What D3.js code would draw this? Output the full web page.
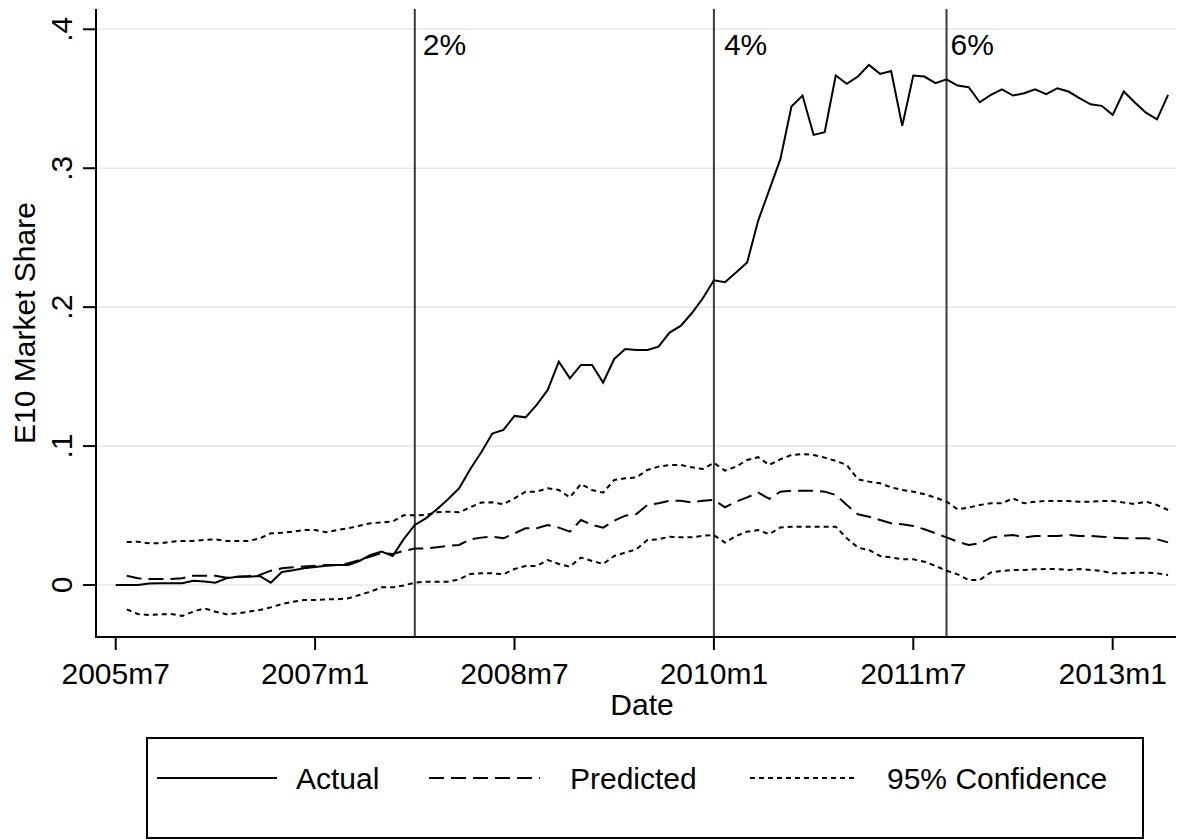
<!DOCTYPE html>
<html>
<head>
<meta charset="utf-8">
<script src="https://cdn.jsdelivr.net/npm/d3@7"></script>
<style>
  html, body { margin: 0; padding: 0; background: #fff; }
  svg { display: block; }
  text { font-family: "Liberation Sans", Arial, Helvetica, sans-serif; fill: #000; }
</style>
</head>
<body>
<svg id="chart" width="1185" height="840"></svg>
<script>
// ---- Data (monthly, index 0 = 2005m7) ----
const startLabel = "2005m7";
const actual = [
  0, 0, 0, 0.001, 0.0012, 0.0012, 0.0012, 0.003, 0.0025, 0.0017,
  0.0048, 0.006, 0.006, 0.0065, 0.0017, 0.0094, 0.0106, 0.012, 0.013, 0.0139,
  0.0144, 0.0144, 0.0173, 0.0216, 0.024, 0.0209, 0.033, 0.0432, 0.048, 0.0545,
  0.0617, 0.0696, 0.0833, 0.0955, 0.109, 0.1116, 0.1217, 0.1207, 0.1296, 0.1404,
  0.1608, 0.1488, 0.1584, 0.1584, 0.1457, 0.1627, 0.1699, 0.1692, 0.1692, 0.1716,
  0.1817, 0.1865, 0.1956, 0.2064, 0.2193, 0.2179, 0.2249, 0.2321, 0.2623, 0.2844,
  0.3065, 0.3444, 0.3523, 0.324, 0.3259, 0.3667, 0.3607, 0.366, 0.3744, 0.3679,
  0.37, 0.3305, 0.3667, 0.366, 0.3612, 0.364, 0.3595, 0.3583, 0.3475, 0.3528,
  0.3568, 0.3523, 0.354, 0.3568, 0.3533, 0.3576, 0.3552, 0.3504, 0.346, 0.3449,
  0.3384, 0.3552, 0.3473, 0.34, 0.3352, 0.3528
];
// predicted & confidence bands start at index 1 (2005m8)
const predStart = 1;
const predicted = [
  0.0067, 0.0048, 0.0043, 0.0043, 0.0043, 0.0048, 0.0067, 0.0067, 0.0067,
  0.0053, 0.006, 0.0065, 0.0072, 0.0103, 0.012, 0.0127, 0.0134, 0.0139, 0.0144,
  0.0144, 0.0156, 0.018, 0.0204, 0.023, 0.0223, 0.0245, 0.0262, 0.0264, 0.0271,
  0.0281, 0.0288, 0.0329, 0.0341, 0.0348, 0.0336, 0.0372, 0.0408, 0.0408, 0.0432,
  0.0413, 0.0384, 0.0468, 0.0432, 0.0413, 0.0463, 0.0499, 0.0511, 0.0576, 0.0588,
  0.0607, 0.0607, 0.0595, 0.0607, 0.0612, 0.0559, 0.06, 0.0631, 0.0665, 0.062,
  0.0672, 0.0679, 0.0679, 0.0679, 0.0672, 0.0648, 0.0576, 0.0509, 0.0492, 0.0468,
  0.0444, 0.0437, 0.0425, 0.0401, 0.0372, 0.0343, 0.0312, 0.0288, 0.03, 0.0341,
  0.0353, 0.036, 0.0343, 0.0353, 0.0353, 0.0353, 0.036, 0.0353, 0.0353, 0.0348,
  0.0341, 0.0336, 0.0336, 0.0336, 0.0329, 0.0307
];
const upperCI = [
  0.0309, 0.0312, 0.030, 0.030, 0.0312, 0.0317, 0.0317, 0.0324, 0.0329,
  0.0317, 0.0317, 0.0317, 0.0336, 0.0372, 0.0376, 0.0384, 0.0396, 0.0396, 0.0379,
  0.0396, 0.0408, 0.0427, 0.0444, 0.0451, 0.0456, 0.0502, 0.0502, 0.0504, 0.0523,
  0.0528, 0.0523, 0.0559, 0.0593, 0.0595, 0.0581, 0.0624, 0.0672, 0.0672, 0.0696,
  0.0684, 0.0631, 0.0727, 0.0684, 0.0665, 0.0756, 0.0768, 0.0775, 0.0828, 0.0852,
  0.0864, 0.0864, 0.0847, 0.0835, 0.0879, 0.0823, 0.0852, 0.09, 0.092, 0.0864,
  0.0905, 0.0936, 0.0943, 0.0936, 0.0917, 0.0893, 0.0864, 0.0761, 0.0744, 0.0732,
  0.0703, 0.0684, 0.0672, 0.0653, 0.0629, 0.06, 0.0545, 0.0557, 0.0576, 0.0588,
  0.0588, 0.0624, 0.0588, 0.06, 0.0605, 0.0605, 0.0605, 0.06, 0.06, 0.0605,
  0.0605, 0.0593, 0.0583, 0.06, 0.0576, 0.054
];
const lowerCI = [
  -0.0175, -0.0209, -0.0216, -0.0211, -0.0209, -0.0223, -0.0192, -0.0168, -0.0192,
  -0.0211, -0.0204, -0.0192, -0.018, -0.0161, -0.0137, -0.012, -0.0108, -0.0108, -0.0103,
  -0.0103, -0.0096, -0.0072, -0.0048, -0.0017, -0.0017, -0.0003, 0.0017, 0.0024, 0.0024,
  0.0024, 0.0041, 0.008, 0.0084, 0.0084, 0.0077, 0.0115, 0.0137, 0.0137, 0.018,
  0.0151, 0.0132, 0.0197, 0.0173, 0.0151, 0.0209, 0.0233, 0.0257, 0.0324, 0.0329,
  0.0348, 0.0343, 0.0343, 0.0355, 0.0359, 0.0305, 0.0353, 0.0384, 0.0395, 0.0366,
  0.0414, 0.042, 0.042, 0.042, 0.042, 0.042, 0.0336, 0.0269, 0.0252, 0.0209,
  0.0199, 0.0185, 0.0185, 0.0168, 0.0137, 0.0103, 0.0077, 0.0036, 0.0036, 0.0091,
  0.0101, 0.0108, 0.0108, 0.0113, 0.0115, 0.0115, 0.0108, 0.0115, 0.0108, 0.0101,
  0.0084, 0.0084, 0.0089, 0.0089, 0.0084, 0.0072
];
const xTickIdx = [0, 18, 36, 54, 72, 90];
const xTickLabels = ["2005m7", "2007m1", "2008m7", "2010m1", "2011m7", "2013m1"];
const yTicks = [0, 0.1, 0.2, 0.3, 0.4];
const yTickLabels = ["0", ".1", ".2", ".3", ".4"];
const refIdx = [27, 54, 75];
const refLabels = ["2%", "4%", "6%"];
const refLabelDx = [8, 10, 4];
const legendLabels = ["Actual", "Predicted", "95% Confidence"];
const xTitle = "Date";
const yTitle = "E10 Market Share";

// ---- Layout ----
const svg = d3.select("#chart");
svg.append("rect").attr("width", 1185).attr("height", 840).attr("fill", "#fff");

const x = d3.scaleLinear().domain([0, 90]).range([115.7, 1112.7]);
const y = d3.scaleLinear().domain([0, 0.4]).range([585, 29.3]);
const plotLeft = 96, plotRight = 1176, plotTop = 9, plotBottom = 637;
const dashPred = "15,7", dashCI = "5,4";

// gridlines
svg.append("g").selectAll("line").data(yTicks).join("line")
  .attr("x1", plotLeft).attr("x2", plotRight)
  .attr("y1", d => y(d)).attr("y2", d => y(d))
  .attr("stroke", "#e8e8e8").attr("stroke-width", 1.6);

// reference lines
const refG = svg.append("g");
refG.selectAll("line").data(refIdx).join("line")
  .attr("x1", d => x(d)).attr("x2", d => x(d))
  .attr("y1", plotTop).attr("y2", plotBottom)
  .attr("stroke", "#3a3a3a").attr("stroke-width", 2);
refG.selectAll("text").data(refIdx).join("text")
  .attr("x", (d, i) => x(d) + refLabelDx[i]).attr("y", 55)
  .attr("font-size", 30)
  .text((d, i) => refLabels[i]);

// series
const lineGen = d3.line().x(d => x(d[0])).y(d => y(d[1]));
const seriesPts = (arr, s) => arr.map((v, i) => [i + s, v]);

svg.append("path").datum(seriesPts(upperCI, predStart)).attr("d", lineGen)
  .attr("fill", "none").attr("stroke", "#000").attr("stroke-width", 2)
  .attr("stroke-dasharray", dashCI);
svg.append("path").datum(seriesPts(lowerCI, predStart)).attr("d", lineGen)
  .attr("fill", "none").attr("stroke", "#000").attr("stroke-width", 2)
  .attr("stroke-dasharray", dashCI);
svg.append("path").datum(seriesPts(predicted, predStart)).attr("d", lineGen)
  .attr("fill", "none").attr("stroke", "#000").attr("stroke-width", 2)
  .attr("stroke-dasharray", dashPred);
svg.append("path").datum(seriesPts(actual, 0)).attr("d", lineGen)
  .attr("fill", "none").attr("stroke", "#000").attr("stroke-width", 2)
  .attr("stroke-linejoin", "miter");

// y axis
const yAxisG = svg.append("g").attr("transform", `translate(${plotLeft},0)`);
yAxisG.append("line").attr("x1", 0).attr("x2", 0).attr("y1", plotTop).attr("y2", plotBottom + 1)
  .attr("stroke", "#000").attr("stroke-width", 2);
yAxisG.selectAll("line.tick").data(yTicks).join("line").attr("class", "tick")
  .attr("x1", -13).attr("x2", 0).attr("y1", d => y(d)).attr("y2", d => y(d))
  .attr("stroke", "#000").attr("stroke-width", 2);
yAxisG.selectAll("text").data(yTicks).join("text")
  .attr("transform", d => `translate(-24,${y(d)}) rotate(-90)`)
  .attr("text-anchor", "middle").attr("font-size", 30)
  .text((d, i) => yTickLabels[i]);

// x axis
const xAxisG = svg.append("g").attr("transform", `translate(0,${plotBottom})`);
xAxisG.append("line").attr("x1", plotLeft - 1).attr("x2", plotRight).attr("y1", 0).attr("y2", 0)
  .attr("stroke", "#000").attr("stroke-width", 2);
xAxisG.selectAll("line.tick").data(xTickIdx).join("line").attr("class", "tick")
  .attr("x1", d => x(d)).attr("x2", d => x(d)).attr("y1", 0).attr("y2", 13)
  .attr("stroke", "#000").attr("stroke-width", 2);
xAxisG.selectAll("text").data(xTickIdx).join("text")
  .attr("x", d => x(d)).attr("y", 47)
  .attr("text-anchor", "middle").attr("font-size", 30)
  .text((d, i) => xTickLabels[i]);

// axis titles
svg.append("text").attr("x", 642).attr("y", 715).attr("text-anchor", "middle")
  .attr("font-size", 30).text(xTitle);
svg.append("text").attr("transform", `translate(35,${(plotTop + plotBottom) / 2}) rotate(-90)`)
  .attr("text-anchor", "middle").attr("font-size", 30).text(yTitle);

// legend
const lg = svg.append("g");
lg.append("rect").attr("x", 147).attr("y", 738).attr("width", 996).attr("height", 100)
  .attr("fill", "#fff").attr("stroke", "#000").attr("stroke-width", 2);
const legItems = [
  { x1: 157, x2: 277, tx: 296, dash: null },
  { x1: 429, x2: 540, tx: 570, dash: dashPred },
  { x1: 750, x2: 855, tx: 887, dash: dashCI }
];
legItems.forEach((it, i) => {
  const l = lg.append("line").attr("x1", it.x1).attr("x2", it.x2).attr("y1", 778).attr("y2", 778)
    .attr("stroke", "#000").attr("stroke-width", 2);
  if (it.dash) l.attr("stroke-dasharray", it.dash);
  lg.append("text").attr("x", it.tx).attr("y", 789).attr("font-size", 30).text(legendLabels[i]);
});
</script>
</body>
</html>
